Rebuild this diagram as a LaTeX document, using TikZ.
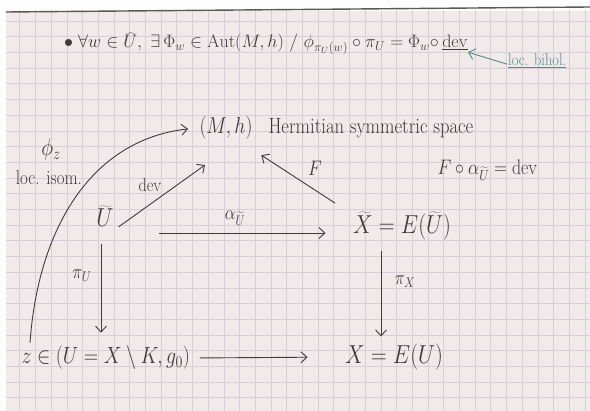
\documentclass[tikz,border=0pt]{standalone}
\usepackage{fix-cm}
\usetikzlibrary{arrows.meta,calc}
\definecolor{ink}{RGB}{66,58,58}
\definecolor{paper}{RGB}{240,234,235}
\definecolor{gridc}{RGB}{216,206,216}
\definecolor{tealink}{RGB}{84,140,134}
\newcommand\myfs[1]{\fontsize{#1}{#1}\selectfont}
\newcommand\hs[1]{\scalebox{0.85}[1]{#1}}
\begin{document}
\begin{tikzpicture}[x=1pt,y=-1pt,
  >={Straight Barb[length=6pt,width=11pt]},
  every node/.style={text=ink},
  arr/.style={draw=ink,line width=0.9pt,->},
  lbl/.style={inner sep=1pt}]
\useasboundingbox (0,0) rectangle (590,411);
% paper
\fill[white!92!paper] (0,0) rectangle (590,411);
\fill[paper] (6,11) rectangle (590,411);
\begin{scope}
\clip (6,11) rectangle (590,411);
\foreach \i in {0,...,37} \draw[gridc,line width=0.6pt] (4+15.7*\i,0) -- ++(0,411);
\foreach \j in {-21,...,5} \draw[gridc,line width=0.6pt] (0,335+15.7*\j) -- ++(590,0);
\end{scope}
\draw[ink!85,line width=1.4pt] (6,12) -- (590,7);

% top formula
\node[anchor=base west,inner sep=0] (topeq) at (64,48)
  {\myfs{18}$\bullet\;\forall w\in\widehat{U},\ \exists\,\Phi_w\in\mathrm{Aut}(M,h)\ /\ \phi_{\pi_U(w)}\circ\pi_U=\Phi_w\circ$};
\node[anchor=base west,inner sep=0] (devu) at ([xshift=3pt]topeq.base east)
  {\myfs{18}$\underline{\mathrm{dev}}$};
\node[anchor=base west,inner sep=1pt,text=tealink] (bihol) at (507,66)
  {\myfs{17}\hs{\underline{loc. bihol.}}};
\draw[tealink,line width=0.9pt,->] ([yshift=-3pt]bihol.west) -- ([yshift=-2pt]devu.south east);

% diagram nodes
\node (mh) at (226,128) {\myfs{23}\hs{$(M,h)$}};
\node[anchor=base west] (herm) at (265,134) {\myfs{22}\hs{Hermitian symmetric space}};
\node (Ut) at (105,216) {\myfs{26}\hs{$\widetilde{U}$}};
\node (Xt) at (402,226) {\myfs{26}\hs{$\widetilde{X}=E(\widetilde{U})$}};
\node[anchor=west] (zl) at (18,358) {\myfs{23.5}\hs{$z\in(U=X\setminus K,g_0)$}};
\node (X) at (394,357) {\myfs{26}\hs{$X=E(U)$}};
\node[anchor=west] (rel) at (434,170) {\myfs{21}\hs{$F\circ\alpha_{\widetilde{U}}=\mathrm{dev}$}};

% labels
\node[lbl] (phz) at (51,150) {\myfs{24}\hs{$\phi_z$}};
\node[lbl] (isom) at (49,178) {\myfs{20}\hs{loc. isom.}};
\node[lbl] (devl) at (150,185) {\myfs{19}\hs{dev}};
\node[lbl] (Fl) at (315,168) {\myfs{21}\hs{$F$}};
\node[lbl] (al) at (235,218) {\myfs{20}\hs{$\alpha_{\widetilde{U}}$}};
\node[lbl] (piu) at (82,276) {\myfs{20}\hs{$\pi_U$}};
\node[lbl] (pix) at (405,282) {\myfs{20}\hs{$\pi_X$}};

% connectors
\coordinate (uA) at ([xshift=-4pt]Ut.south);
\draw[arr,shorten <=14pt,shorten >=10pt] (uA) -- (uA |- zl.north);
\coordinate (xA) at ($(Xt.south west)!0.3!(Xt.south east)$);
\draw[arr,shorten <=8pt,shorten >=4pt] (xA) -- (xA |- X.north);
\draw[arr,shorten <=6pt,shorten >=34pt] (zl.east) -- (X.west);
\draw[arr,shorten <=42pt,shorten >=24pt] ([yshift=-17pt]Ut.east) -- ([yshift=-17pt]Ut.east -| Xt.west);
\draw[arr,shorten <=2pt] ([yshift=-12pt]Ut.east) -- ([xshift=9pt,yshift=-22pt]mh.south west);
\draw[arr,shorten <=3pt,shorten >=4pt] ([xshift=-12pt,yshift=4pt]Xt.north west) -- ([xshift=62pt,yshift=-10pt]mh.south west);
\draw[arr,shorten >=8pt] ([xshift=12pt]zl.north west) .. controls (38,230) and (90,140) .. (mh.west);
\end{tikzpicture}
\end{document}
